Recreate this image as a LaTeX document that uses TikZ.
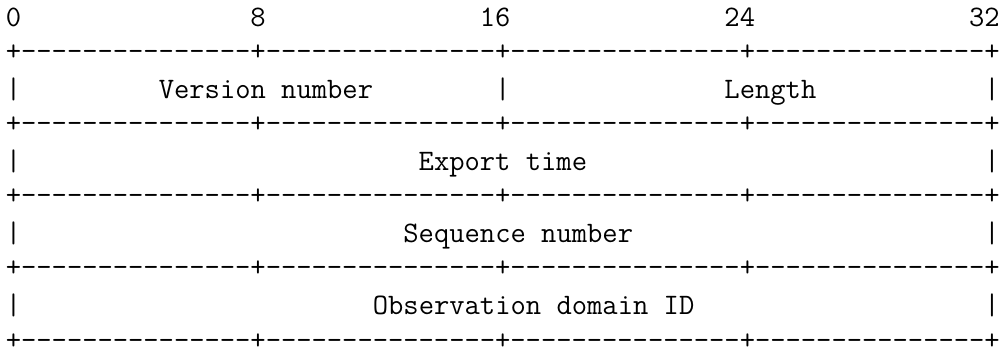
\documentclass[tikz,border=0pt]{standalone}
\begin{document}
\begin{tikzpicture}[x=1pt,y=1pt,
  asc/.style={font=\fontsize{29.73}{36}\selectfont\ttfamily, inner sep=0pt, outer sep=0pt, anchor=base},
  ascw/.style={asc, anchor=base west},
  hdr/.style={asc, anchor=base east}]
\useasboundingbox (0,0) rectangle (1008,353);
% header numbers
\foreach \c/\t in {0/0,16/8,32/16,48/24,64/32}
  \node[hdr] (h\c) at ({13.5+15.29*\c+7.645},{353-27}) {\t};
% border lines
\foreach \r/\yb in {1/61,2/133,3/205,4/277,5/349}{
  \foreach \c in {0,...,64}{
    \pgfmathtruncatemacro\m{mod(\c,16)}
    \ifnum\m=0
      \node[asc] (b\r-\c) at ({13.5+15.29*\c},{353-\yb}) {+};
    \else
      \node[asc] (b\r-\c) at ({13.5+15.29*\c},{353-\yb}) {-};
    \fi
  }
}
% row bars
\foreach \r/\yb in {1/98.5,2/170.5,3/242.5,4/314.5}{
  \node[asc] (l\r) at (13.5,{353-\yb}) {|};
  \node[asc] (r\r) at ({13.5+15.29*64},{353-\yb}) {|};
}
\node[asc] (m1) at ({13.5+15.29*32},{353-98.5}) {|};
% row texts
\node[ascw] (t1) at ({13.5+15.29*10-7.645},{353-98.5}) {Version number};
\node[ascw] (t2) at ({13.5+15.29*47-7.645},{353-98.5}) {Length};
\node[ascw] (t3) at ({13.5+15.29*27-7.645},{353-170.5}) {Export time};
\node[ascw] (t4) at ({13.5+15.29*26-7.645},{353-242.5}) {Sequence number};
\node[ascw] (t5) at ({13.5+15.29*24-7.645},{353-314.5}) {Observation domain ID};
\end{tikzpicture}
\end{document}
